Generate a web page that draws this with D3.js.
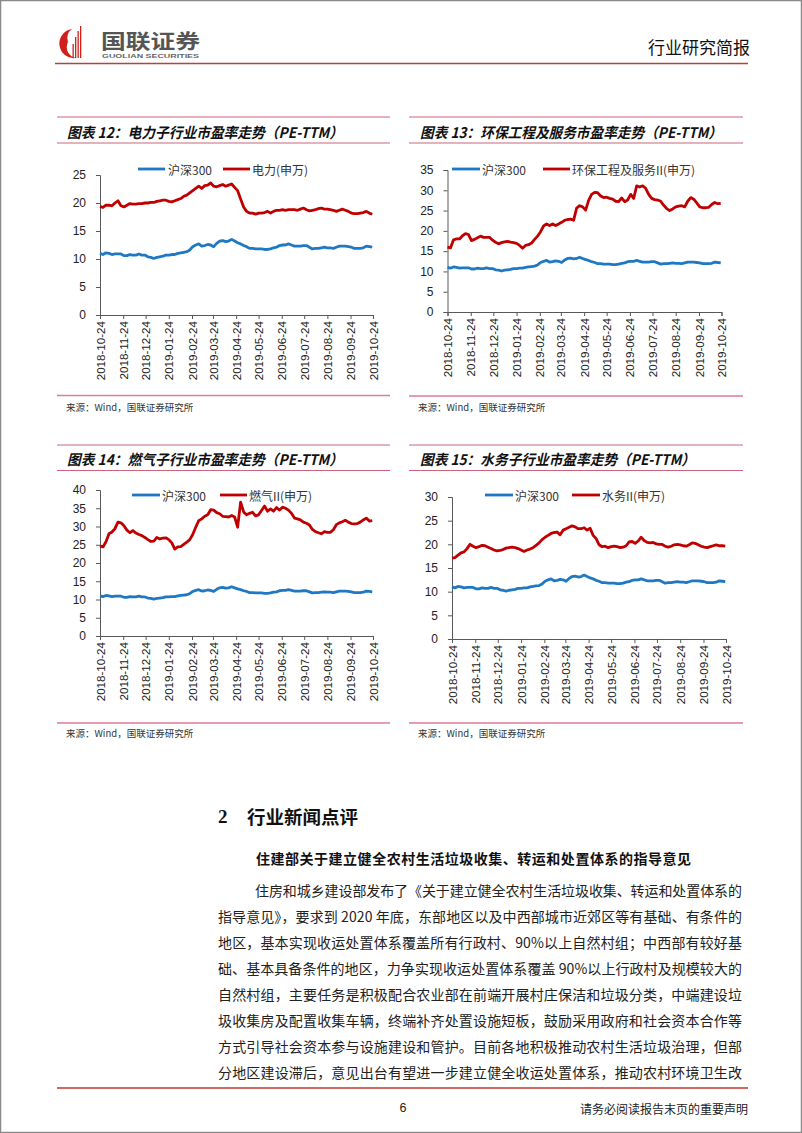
<!DOCTYPE html>
<html><head><meta charset="utf-8">
<script src="https://cdn.jsdelivr.net/npm/d3@7"></script>
<style>body{margin:0;background:#fff}svg{display:block}</style>
</head><body>
<svg id="page" width="802" height="1133"></svg>
<script>
// ---------- DATA ----------
const dates = ["2018-10-24","2018-10-28","2018-11-01","2018-11-05","2018-11-09","2018-11-13","2018-11-17","2018-11-21","2018-11-25","2018-11-29",
"2018-12-03","2018-12-07","2018-12-11","2018-12-15","2018-12-19","2018-12-23","2018-12-27","2018-12-31","2019-01-04","2019-01-08",
"2019-01-12","2019-01-16","2019-01-20","2019-01-24","2019-01-28","2019-02-01","2019-02-05","2019-02-09","2019-02-13","2019-02-17",
"2019-02-21","2019-02-25","2019-03-01","2019-03-05","2019-03-09","2019-03-13","2019-03-17","2019-03-21","2019-03-25","2019-03-29",
"2019-04-02","2019-04-06","2019-04-10","2019-04-14","2019-04-18","2019-04-22","2019-04-26","2019-04-30","2019-05-04","2019-05-08",
"2019-05-12","2019-05-16","2019-05-20","2019-05-24","2019-05-28","2019-06-01","2019-06-05","2019-06-09","2019-06-13","2019-06-17",
"2019-06-21","2019-06-25","2019-06-29","2019-07-03","2019-07-07","2019-07-11","2019-07-15","2019-07-19","2019-07-23","2019-07-27",
"2019-07-31","2019-08-04","2019-08-08","2019-08-12","2019-08-16","2019-08-20","2019-08-24","2019-08-28","2019-09-01","2019-09-05",
"2019-09-09","2019-09-13","2019-09-17","2019-09-21","2019-09-25","2019-09-29","2019-10-03","2019-10-07","2019-10-11","2019-10-15",
"2019-10-19","2019-10-23"];

const hs300 = [11.0,10.8,11.1,11.0,10.8,10.9,10.9,10.9,10.6,10.6,10.8,10.7,10.7,10.9,10.7,10.7,10.4,10.3,10.1,10.3,
10.4,10.5,10.7,10.7,10.8,10.8,11.0,11.1,11.2,11.3,11.6,12.2,12.5,12.7,12.3,12.4,12.6,12.5,12.2,12.8,
13.2,13.3,13.1,13.2,13.5,13.2,12.9,12.7,12.4,12.2,11.9,11.9,11.8,11.8,11.8,11.7,11.7,11.8,12.0,12.1,
12.4,12.5,12.5,12.7,12.5,12.3,12.3,12.3,12.4,12.4,12.1,11.8,11.9,11.9,12.0,12.1,12.0,12.0,11.9,12.1,
12.3,12.3,12.3,12.2,12.1,11.9,11.9,11.9,12.0,12.3,12.2,12.1];

const power = [19.4,19.2,19.6,19.6,19.5,20.0,20.4,19.5,19.3,19.6,19.9,19.8,19.8,19.9,19.9,20.0,20.0,20.1,20.1,20.3,
20.4,20.5,20.5,20.3,20.2,20.4,20.6,20.8,21.2,21.4,21.8,22.2,22.6,23.0,22.6,23.1,23.2,23.6,23.0,22.9,
23.1,23.3,23.0,23.2,23.4,22.8,22.2,20.7,19.3,18.5,18.2,18.2,18.0,18.2,18.2,18.3,18.5,18.2,18.5,18.7,
18.7,18.8,18.7,18.8,18.8,18.8,18.7,18.9,19.1,18.8,18.6,18.7,18.8,19.0,19.1,18.9,18.9,18.8,18.7,18.5,
18.7,18.9,18.7,18.5,18.2,18.1,18.1,18.2,18.3,18.5,18.2,18.0];

const envir = [16.0,15.8,17.8,18.0,18.0,18.8,19.3,19.1,17.6,17.9,18.3,18.7,18.4,18.4,18.4,17.7,17.2,16.8,17.1,17.3,
17.4,17.2,17.1,16.9,16.4,15.7,16.4,16.6,17.0,17.9,18.7,19.8,21.2,21.7,21.3,21.7,21.3,21.7,22.1,22.6,
22.8,22.9,22.6,25.6,26.2,25.9,25.1,27.5,29.0,29.5,29.4,28.6,28.2,28.3,28.0,27.8,27.3,27.2,28.1,27.2,
27.6,29.0,28.0,31.1,30.8,31.1,30.5,29.0,28.0,27.7,27.6,27.3,26.3,25.5,25.0,25.4,25.9,26.1,26.2,25.9,
27.3,28.2,27.8,26.9,25.9,25.7,25.7,25.8,26.5,27.0,26.7,26.8];

const gas = [24.7,24.4,25.8,28.0,28.5,29.4,31.2,31.0,30.2,29.0,28.3,28.9,28.2,27.8,27.5,27.0,26.4,25.9,26.0,27.0,
26.6,26.8,26.9,26.4,25.5,23.8,24.4,24.5,25.1,25.7,26.4,27.8,29.8,31.6,32.1,32.8,33.2,34.6,34.5,33.8,
33.5,32.8,32.7,32.6,33.0,32.6,29.8,36.7,34.0,33.2,33.6,33.9,32.9,33.2,34.4,35.6,34.2,34.8,34.2,35.2,
34.5,35.3,35.0,34.5,33.6,32.3,32.1,31.8,31.2,30.9,30.4,29.2,28.6,28.3,28.0,28.6,28.4,28.4,29.1,30.5,
31.0,31.3,31.7,31.2,30.8,30.7,30.8,31.2,31.8,32.3,31.5,31.6];

const water = [17.1,17.2,17.7,18.2,18.4,19.1,20.0,19.6,19.3,19.5,19.8,19.7,19.4,19.1,18.8,18.6,18.7,18.9,19.2,19.3,
19.4,19.3,19.1,18.8,18.5,18.8,19.0,19.3,19.8,20.3,21.0,21.5,21.9,22.3,22.5,22.6,22.0,23.0,23.3,23.6,
23.9,23.7,23.3,23.3,23.5,23.0,23.4,21.9,21.2,19.9,19.5,19.6,19.3,19.5,19.6,19.5,19.3,19.4,19.7,20.5,
20.6,20.2,20.7,21.5,20.8,20.4,20.3,20.4,20.1,20.0,20.0,19.6,19.4,19.6,19.9,20.0,19.9,19.7,19.6,19.9,
20.3,20.2,19.9,19.6,19.4,19.3,19.5,19.7,19.9,19.7,19.7,19.6];

const xTickLabels = ["2018-10-24","2018-11-24","2018-12-24","2019-01-24","2019-02-24","2019-03-24","2019-04-24",
"2019-05-24","2019-06-24","2019-07-24","2019-08-24","2019-09-24","2019-10-24"];
const yTicks12 = [0,5,10,15,20,25];
const yTicks13 = [0,5,10,15,20,25,30,35];
const yTicks14 = [0,5,10,15,20,25,30,35,40];
const yTicks15 = [0,5,10,15,20,25,30];

const titles = ["图表 12：电力子行业市盈率走势（PE-TTM）","图表 13：环保工程及服务市盈率走势（PE-TTM）",
"图表 14：燃气子行业市盈率走势（PE-TTM）","图表 15：水务子行业市盈率走势（PE-TTM）"];
const seriesNames = ["电力(申万)","环保工程及服务II(申万)","燃气II(申万)","水务II(申万)"];
const hsName = "沪深300";
const sourceText = "来源：Wind，国联证券研究所";

const paraLines = [
"住房和城乡建设部发布了《关于建立健全农村生活垃圾收集、转运和处置体系的",
"指导意见》，要求到 2020 年底，东部地区以及中西部城市近郊区等有基础、有条件的",
"地区，基本实现收运处置体系覆盖所有行政村、90%以上自然村组；中西部有较好基",
"础、基本具备条件的地区，力争实现收运处置体系覆盖 90%以上行政村及规模较大的",
"自然村组，主要任务是积极配合农业部在前端开展村庄保洁和垃圾分类，中端建设垃",
"圾收集房及配置收集车辆，终端补齐处置设施短板，鼓励采用政府和社会资本合作等",
"方式引导社会资本参与设施建设和管护。目前各地积极推动农村生活垃圾治理，但部",
"分地区建设滞后，意见出台有望进一步建立健全收运处置体系，推动农村环境卫生改"];

// ---------- DRAW ----------
const svg = d3.select("#page");
const BLUE = "#1f78c4", RED = "#c00000";
const CJK = "'Noto Sans CJK SC', sans-serif";
const LAT = "'Liberation Sans', Arial, sans-serif";
const parse = d3.timeParse("%Y-%m-%d");

svg.append("rect").attr("x",0).attr("y",0).attr("width",802).attr("height",1133).attr("fill","#fff");
svg.append("rect").attr("x",0.5).attr("y",0.5).attr("width",801).attr("height",1132)
  .attr("fill","none").attr("stroke","#8a8a8a").attr("stroke-width",1.5);

// header logo
const logo = svg.append("g");
logo.append("path").attr("d","M72,29 A14,14 0 1 0 76,58 A11,11 0 0 1 68,42 A11,11 0 0 1 72,29 Z").attr("fill","#d0201c");
[[72.5,44],[75,37],[77.5,31],[80,26]].forEach(([bx,top])=>{
  logo.append("rect").attr("x",bx).attr("y",top).attr("width",1.3).attr("height",58-top).attr("fill","#d0201c");
});
svg.append("text").attr("x",101).attr("y",40).attr("dominant-baseline","central").attr("font-family",CJK).attr("font-weight",700)
  .attr("font-size",20).attr("fill","#555").attr("textLength",99).attr("lengthAdjust","spacingAndGlyphs").text("国联证券");
svg.append("text").attr("x",102).attr("y",55.5).attr("dominant-baseline","central").attr("font-family",LAT).attr("font-weight",700)
  .attr("font-size",6).attr("fill","#666").attr("textLength",97).attr("lengthAdjust","spacingAndGlyphs").text("GUOLIAN SECURITIES");
svg.append("text").attr("x",750).attr("y",54).attr("text-anchor","end").attr("font-family",CJK)
  .attr("font-size",17).attr("fill","#111").text("行业研究简报");
svg.append("line").attr("x1",55).attr("x2",748).attr("y1",63.5).attr("y2",63.5).attr("stroke","#b8403f").attr("stroke-width",1.6);

// chart layouts
const layouts = [
 {data:power, yTicks:yTicks12, ymax:25, x0:100, x1:373, yB:315, yT:175, px0:57, px1:390, tTop:117, tBot:143, tX:67, tW:276,
  legY:169, bSeg:[138,165], bTxt:168, rSeg:[223,250], rTxt:252, srcLine:395.5, srcY:407, srcX:66},
 {data:envir, yTicks:yTicks13, ymax:35, x0:447.5, x1:721.5, yB:312, yT:170, px0:409, px1:743, tTop:117, tBot:143, tX:420, tW:302,
  legY:169, bSeg:[452,480], bTxt:482, rSeg:[543,570], rTxt:572, srcLine:396, srcY:407, srcX:418},
 {data:gas, yTicks:yTicks14, ymax:40, x0:100, x1:373, yB:636, yT:490, px0:57, px1:390, tTop:445, tBot:470.5, tX:67, tW:276,
  legY:495, bSeg:[132,160], bTxt:162, rSeg:[220,247], rTxt:249, srcLine:723, srcY:733, srcX:66},
 {data:water, yTicks:yTicks15, ymax:30, x0:452, x1:726, yB:639, yT:497, px0:409, px1:743, tTop:445, tBot:470.5, tX:420, tW:275,
  legY:495, bSeg:[485,513], bTxt:515, rSeg:[572,600], rTxt:602, srcLine:723, srcY:733, srcX:418}
];

const tickDates = xTickLabels.map(parse);

layouts.forEach((L,i)=>{
  const g = svg.append("g");
  // title block
  g.append("line").attr("x1",L.px0).attr("x2",L.px1).attr("y1",L.tTop).attr("y2",L.tTop).attr("stroke","#c9647a").attr("stroke-width",1);
  g.append("line").attr("x1",L.px0).attr("x2",L.px1).attr("y1",L.tBot).attr("y2",L.tBot).attr("stroke","#c9647a").attr("stroke-width",1);
  g.append("text").attr("x",L.tX).attr("y",(L.tTop+L.tBot)/2+1).attr("dominant-baseline","central")
    .attr("font-family",CJK).attr("font-weight",700).attr("font-style","italic").attr("font-size",14.5)
    .attr("fill","#111").attr("textLength",L.tW).attr("lengthAdjust","spacingAndGlyphs").text(titles[i]);

  const x = d3.scaleTime().domain([parse("2018-10-24"),parse("2019-10-24")]).range([L.x0,L.x1]);
  const y = d3.scaleLinear().domain([0,L.ymax]).range([L.yB,L.yT]);

  const yAxis = g.append("g").attr("transform",`translate(${L.x0},0)`)
    .call(d3.axisLeft(y).tickValues(L.yTicks).tickSize(4).tickPadding(10).tickFormat(d3.format("d")));
  yAxis.selectAll("text").attr("font-family",LAT).attr("font-size",12).attr("fill","#222");
  yAxis.selectAll("line,path").attr("stroke","#595959");

  const xAxis = g.append("g").attr("transform",`translate(0,${L.yB})`)
    .call(d3.axisBottom(x).tickValues(tickDates).tickSize(4).tickFormat((d,j)=>xTickLabels[j]));
  xAxis.selectAll("line,path").attr("stroke","#595959");
  xAxis.selectAll("text").attr("font-family",LAT).attr("font-size",11.6).attr("fill","#222")
    .attr("transform","rotate(-90)").attr("text-anchor","end").attr("x",-6).attr("y",0).attr("dy","0.35em");

  const line = d3.line().x((d,j)=>x(parse(dates[j]))).y(d=>y(d));
  g.append("path").datum(hs300).attr("d",line).attr("fill","none").attr("stroke",BLUE)
    .attr("stroke-width",2.8).attr("stroke-linejoin","round");
  g.append("path").datum(L.data).attr("d",line).attr("fill","none").attr("stroke",RED)
    .attr("stroke-width",2.8).attr("stroke-linejoin","round");

  // legend
  g.append("line").attr("x1",L.bSeg[0]).attr("x2",L.bSeg[1]).attr("y1",L.legY).attr("y2",L.legY).attr("stroke",BLUE).attr("stroke-width",2.8);
  g.append("text").attr("x",L.bTxt).attr("y",L.legY).attr("dominant-baseline","central").attr("font-family",CJK)
    .attr("font-size",12).attr("fill","#333").text(hsName);
  g.append("line").attr("x1",L.rSeg[0]).attr("x2",L.rSeg[1]).attr("y1",L.legY).attr("y2",L.legY).attr("stroke",RED).attr("stroke-width",2.8);
  g.append("text").attr("x",L.rTxt).attr("y",L.legY).attr("dominant-baseline","central").attr("font-family",CJK)
    .attr("font-size",12).attr("fill","#333").text(seriesNames[i]);

  // source
  g.append("line").attr("x1",L.px0).attr("x2",L.px1).attr("y1",L.srcLine).attr("y2",L.srcLine).attr("stroke","#e07a96").attr("stroke-width",1.4);
  g.append("text").attr("x",L.srcX).attr("y",L.srcY).attr("dominant-baseline","central").attr("font-family",CJK)
    .attr("font-size",9.5).attr("fill","#333").text(sourceText);
});

// section text
svg.append("text").attr("x",218).attr("y",816).attr("dominant-baseline","central").attr("font-family","'Liberation Serif', serif")
  .attr("font-weight",700).attr("font-size",19).attr("fill","#111").text("2");
svg.append("text").attr("x",247).attr("y",816).attr("dominant-baseline","central").attr("font-family",CJK)
  .attr("font-weight",700).attr("font-size",18.5).attr("fill","#111").text("行业新闻点评");
svg.append("text").attr("x",256).attr("y",858).attr("dominant-baseline","central").attr("font-family",CJK)
  .attr("font-weight",700).attr("font-size",14).attr("fill","#111").attr("textLength",435).attr("lengthAdjust","spacing")
  .text("住建部关于建立健全农村生活垃圾收集、转运和处置体系的指导意见");
paraLines.forEach((t,k)=>{
  const x0 = k===0 ? 255 : 218;
  svg.append("text").attr("x",x0).attr("y",890+k*26).attr("dominant-baseline","central").attr("font-family",CJK)
    .attr("font-size",14).attr("fill","#222").attr("textLength",742-x0).attr("lengthAdjust","spacing").text(t);
});

// footer
svg.append("line").attr("x1",57).attr("x2",748).attr("y1",1088).attr("y2",1088).attr("stroke","#c0392b").attr("stroke-width",1.4);
svg.append("text").attr("x",403).attr("y",1108).attr("text-anchor","middle").attr("dominant-baseline","central")
  .attr("font-family",LAT).attr("font-size",12.5).attr("fill","#222").text("6");
svg.append("text").attr("x",748).attr("y",1108).attr("text-anchor","end").attr("dominant-baseline","central")
  .attr("font-family",CJK).attr("font-size",12).attr("fill","#222").text("请务必阅读报告末页的重要声明");
</script>
</body></html>
